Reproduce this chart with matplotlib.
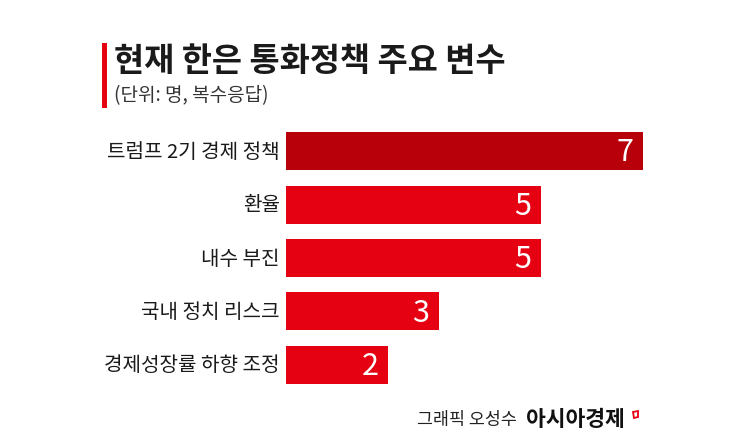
import matplotlib
matplotlib.use("Agg")
from matplotlib import pyplot as plt
from matplotlib.patches import Rectangle, Polygon

plt.rcParams["font.family"] = ["Noto Sans CJK KR", "DejaVu Sans"]

categories = ["트럼프 2기 경제 정책", "환율", "내수 부진", "국내 정치 리스크", "경제성장률 하향 조정"]
values = [7, 5, 5, 3, 2]
bar_colors = ["#B8000B", "#E50012", "#E50012", "#E50012", "#E50012"]

W, H = 745, 443
fig = plt.figure(figsize=(W / 100, H / 100), dpi=100)
fig.patch.set_facecolor("white")

# axes placed so that 0..7 spans the bar area
ax_left, ax_right = 286, 643
ax_top, ax_bottom = 124.5, 391.5
ax = fig.add_axes([ax_left / W, 1 - ax_bottom / H, (ax_right - ax_left) / W, (ax_bottom - ax_top) / H])
y = range(len(categories))
ax.barh(y, values, height=0.71, color=bar_colors)
ax.set_xlim(0, 7)
ax.set_ylim(len(categories) - 0.5, -0.5)
ax.axis("off")

for i, (cat, v) in enumerate(zip(categories, values)):
    ax.text(v - 0.19, i + 0.03, str(v), ha="right", va="center", color="white", fontsize=22,
            fontweight="medium")
    ax.text(-0.12, i + 0.02, cat, ha="right", va="center", color="#1a1a1a", fontsize=14.5)

# title block
fig.add_artist(Rectangle((102 / W, 1 - 108 / H), 5 / W, 65 / H, transform=fig.transFigure,
                         color="#E50012", lw=0))
fig.text(114 / W, 1 - 61 / H, "현재 한은 통화정책 주요 변수", fontsize=23.6, fontweight="bold",
         color="#1a1a1a", va="center", ha="left")
fig.text(114 / W, 1 - 96 / H, "(단위: 명, 복수응답)", fontsize=13.7, color="#333333",
         va="center", ha="left")

# footer
fig.text(517 / W, 1 - 420 / H, "그래픽 오성수", fontsize=12.5, color="#222222", va="center", ha="right")
fig.text(526 / W, 1 - 420 / H, "아시아경제", fontsize=15.5, fontweight="bold", color="#111111",
         va="center", ha="left")
logo = [(633, 412), (638, 411), (638, 417), (634, 418)]
fig.add_artist(Polygon([(px / W, 1 - py / H) for px, py in logo], closed=True, fill=False,
                       edgecolor="#E50012", lw=1.3, transform=fig.transFigure))

fig.savefig("out.png", dpi=100, facecolor="white")
